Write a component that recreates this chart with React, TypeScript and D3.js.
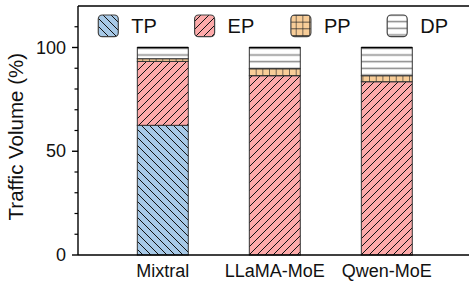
import * as d3 from "d3";
import React from "react";

const categories = ["Mixtral", "LLaMA-MoE", "Qwen-MoE"];
const seriesNames = ["TP", "EP", "PP", "DP"];
const tpValues = [62.5, 0, 0];
const epValues = [30.8, 86.4, 83.5];
const ppValues = [1.3, 3.4, 2.9];
const dpValues = [5.4, 10.2, 13.6];
const majorTicks = [0, 50, 100];
const minorTicks = [10, 20, 30, 40, 60, 70, 80, 90, 110];

const W = 469,
  H = 282;
const left = 78,
  top = 6,
  bottom = 255,
  right = 475;
const font = "'Liberation Sans', Arial, Helvetica, sans-serif";

const fills: Record<string, string> = {
  TP: "url(#hTP)",
  EP: "url(#hEP)",
  PP: "url(#hPP)",
  DP: "url(#hDP)",
};

function Patterns() {
  const s = 8;
  const g = 6.67;
  return (
    <defs>
      <pattern id="hTP" patternUnits="userSpaceOnUse" width={s} height={s}>
        <rect width={s} height={s} fill="#a7c9e7" />
        <path d={`M0,0L${s},${s}M-2,${s - 2}L2,${s + 2}M${s - 2},-2L${s + 2},2`} stroke="#111" strokeWidth={1} />
      </pattern>
      <pattern id="hEP" patternUnits="userSpaceOnUse" width={s} height={s}>
        <rect width={s} height={s} fill="#fdaaaa" />
        <path d={`M0,${s}L${s},0M-2,2L2,-2M${s - 2},${s + 2}L${s + 2},${s - 2}`} stroke="#111" strokeWidth={1} />
      </pattern>
      <pattern id="hPP" patternUnits="userSpaceOnUse" width={g} height={g} x={142.3} y={55}>
        <rect width={g} height={g} fill="#f8cd98" />
        <path d={`M0,0V${g}M0,0H${g}`} stroke="#222" strokeWidth={1.2} />
      </pattern>
      <pattern id="hDP" patternUnits="userSpaceOnUse" width={g} height={g} y={55 - g / 2}>
        <rect width={g} height={g} fill="#ffffff" />
        <path d={`M0,${g / 2}H${g}`} stroke="#888" strokeWidth={1.5} />
      </pattern>
    </defs>
  );
}

export default function App() {
  const x = d3
    .scaleBand<string>()
    .domain(categories)
    .range([106.8, 442.8])
    .paddingInner(0.545)
    .paddingOuter(0.2725);
  const y = d3.scaleLinear().domain([0, 120]).range([bottom, top]);

  const table = categories.map((c, i) => ({
    cat: c,
    TP: tpValues[i],
    EP: epValues[i],
    PP: ppValues[i],
    DP: dpValues[i],
  }));
  const stacked = d3.stack<any>().keys(seriesNames)(table);

  return (
    <svg
      width={W}
      height={H}
      style={{ position: "absolute", left: 0, top: 0, background: "#fff" }}
      fontFamily={font}
    >
      <Patterns />
      <rect width={W} height={H} fill="#fff" />
      {stacked.map((layer) => (
        <g key={layer.key}>
          {layer.map((d, i) =>
            d[1] - d[0] > 0 ? (
              <rect
                key={i}
                x={x(categories[i])}
                y={y(d[1])}
                width={x.bandwidth()}
                height={y(d[0]) - y(d[1])}
                fill={fills[layer.key]}
                stroke="#333"
                strokeWidth={1}
              />
            ) : null
          )}
        </g>
      ))}
      {/* bar tops */}
      {categories.map((c, i) => (
        <line
          key={c}
          x1={x(c)}
          x2={(x(c) as number) + x.bandwidth()}
          y1={y(stacked[3][i][1])}
          y2={y(stacked[3][i][1])}
          stroke="#000"
          strokeWidth={1.5}
        />
      ))}

      {/* axes */}
      <line x1={left} x2={right} y1={top} y2={top} stroke="#000" strokeWidth={1.4} />
      <line x1={left} x2={right} y1={bottom} y2={bottom} stroke="#000" strokeWidth={1.4} />
      <line x1={left} x2={left} y1={top} y2={bottom} stroke="#000" strokeWidth={1.4} />
      {majorTicks.map((t) => (
        <g key={t}>
          <line x1={left - 6} x2={left} y1={y(t)} y2={y(t)} stroke="#000" strokeWidth={1.4} />
          <text
            x={left - 12}
            y={y(t)}
            textAnchor="end"
            dominantBaseline="central"
            fontSize={18}
            fill="#111"
          >
            {t}
          </text>
        </g>
      ))}
      {minorTicks.map((t) => (
        <line key={t} x1={left - 3.5} x2={left} y1={y(t)} y2={y(t)} stroke="#000" strokeWidth={1.2} />
      ))}
      {categories.map((c) => (
        <text
          key={c}
          x={(x(c) as number) + x.bandwidth() / 2}
          y={277}
          textAnchor="middle"
          fontSize={18}
          fill="#111"
        >
          {c}
        </text>
      ))}
      <text
        transform={`translate(23,${136.7}) rotate(-90)`}
        textAnchor="middle"
        fontSize={20.5}
        fill="#111"
      >
        Traffic Volume (%)
      </text>

      {/* legend */}
      {seriesNames.map((n, i) => {
        const lx = 98.3 + i * 96.3;
        return (
          <g key={n}>
            <rect
              x={lx}
              y={15}
              width={20}
              height={21.7}
              rx={4}
              fill={fills[n]}
              stroke="#444"
              strokeWidth={1.2}
            />
            <text x={lx + 33} y={33.3} fontSize={20} fill="#111">
              {n}
            </text>
          </g>
        );
      })}
    </svg>
  );
}
